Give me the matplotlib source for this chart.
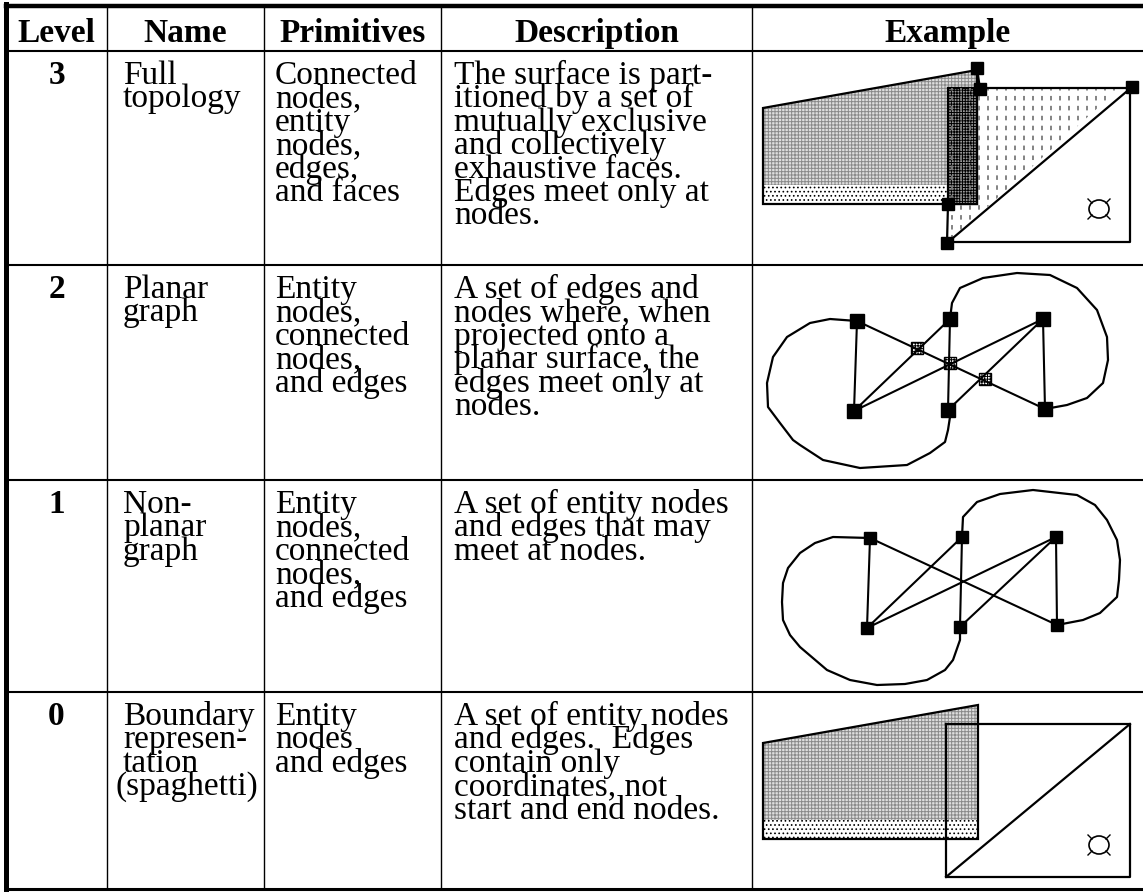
import numpy as np
import matplotlib
matplotlib.use('Agg')
import matplotlib.pyplot as plt
from matplotlib.patches import Polygon, Rectangle, Ellipse

plt.rcParams['font.family'] = ['Liberation Serif', 'DejaVu Serif']
plt.rcParams['hatch.linewidth'] = 0.7

# ---- table contents ----
headers = ['Level', 'Name', 'Primitives', 'Description', 'Example']
levels = ['3', '2', '1', '0']
names = [['Full', 'topology'],
         ['Planar', 'graph'],
         ['Non-', 'planar', 'graph'],
         ['Boundary', 'represen-', 'tation', '(spaghetti)']]
primitives = [['Connected', 'nodes,', 'entity', 'nodes,', 'edges,', 'and faces'],
              ['Entity', 'nodes,', 'connected', 'nodes,', 'and edges'],
              ['Entity', 'nodes,', 'connected', 'nodes,', 'and edges'],
              ['Entity', 'nodes', 'and edges']]
descriptions = [['The surface is part-', 'itioned by a set of', 'mutually exclusive',
                 'and collectively', 'exhaustive faces.', 'Edges meet only at', 'nodes.'],
                ['A set of edges and', 'nodes where, when', 'projected onto a',
                 'planar surface, the', 'edges meet only at', 'nodes.'],
                ['A set of entity nodes', 'and edges that may', 'meet at nodes.'],
                ['A set of entity nodes', 'and edges.  Edges', 'contain only',
                 'coordinates, not', 'start and end nodes.']]

# grid of the table (pixels)
col_x = [6, 107, 264, 441, 752, 1143]
row_y = [6, 51, 265, 480, 692, 889]

# ---- example drawings (pixel coords) ----
# level 3 : full topology
l3_face = [(763, 108), (977, 70), (977, 204), (763, 204)]
l3_band = [(763, 185), (977, 185), (977, 204), (763, 204)]
l3_strip = [(948, 88), (977, 88), (977, 204), (948, 204)]
l3_dash = [(948, 88), (1120, 88), (947, 243), (948, 204)]
l3_rect = [(977, 88), (1130, 88), (1130, 242), (947, 242)]
l3_nodes = [(977, 68), (980, 89), (1132, 87), (948, 204), (947, 243)]
l3_mark = (1099, 209)

# level 2 : planar graph
l2_nodes = [(857, 321), (950, 319), (1043, 319), (854, 411), (948, 410), (1045, 409)]
l2_cross = [(917, 348), (950, 363), (985, 379)]
l2_edges = [(0, 3), (1, 4), (2, 5), (0, 5), (3, 1), (3, 2), (4, 2)]
l2_left = [(857, 321), (830, 319), (810, 323), (787, 337), (773, 357), (767, 383),
           (768, 407), (780, 423), (793, 440), (800, 445), (823, 460), (860, 468),
           (907, 465), (930, 453), (945, 442), (948, 430), (950, 417), (948, 410)]
l2_right = [(950, 319), (952, 303), (960, 288), (983, 278), (1017, 273), (1050, 275),
            (1077, 288), (1097, 310), (1107, 337), (1108, 360), (1103, 383),
            (1087, 398), (1067, 405), (1045, 409)]

# level 1 : non-planar graph
l1_nodes = [(870, 538), (962, 537), (1056, 537), (867, 628), (960, 627), (1057, 625)]
l1_edges = [(0, 3), (1, 4), (2, 5), (0, 5), (1, 3), (2, 3), (2, 4)]
l1_left = [(870, 538), (833, 537), (815, 543), (800, 553), (788, 568), (783, 583),
           (782, 602), (783, 620), (790, 635), (800, 647), (827, 670), (850, 680),
           (877, 685), (905, 684), (927, 680), (945, 670), (953, 660), (960, 640),
           (960, 627)]
l1_right = [(962, 537), (963, 517), (977, 502), (1000, 494), (1033, 490), (1077, 495),
            (1095, 505), (1107, 520), (1117, 540), (1120, 560), (1119, 580),
            (1117, 597), (1100, 613), (1083, 620), (1057, 625)]

# level 0 : spaghetti
l0_face = [(763, 743), (978, 705), (978, 839), (763, 839)]
l0_band = [(763, 820), (978, 820), (978, 839), (763, 839)]
l0_rect = [(946, 724), (1130, 724), (1130, 877), (946, 877)]
l0_mark = (1099, 845)

fig = plt.figure(figsize=(11.43, 8.92), dpi=100)
ax = fig.add_axes([0, 0, 1, 1])
ax.set_xlim(0, 1143)
ax.set_ylim(892, 0)
ax.axis('off')
renderer = fig.canvas.get_renderer()

# ---- table lines ----
for x in col_x[1:-1]:
    ax.plot([x, x], [row_y[0], row_y[-1]], color='black', lw=1.0)
for y in row_y[1:-1]:
    ax.plot([col_x[0], col_x[-1]], [y, y], color='black', lw=1.5)
ax.plot([col_x[0], col_x[-1]], [row_y[0], row_y[0]], color='black', lw=3.2)
ax.plot([col_x[0], col_x[-1]], [row_y[-1], row_y[-1]], color='black', lw=2.2)
ax.plot([col_x[0], col_x[0]], [row_y[0] - 2, row_y[-1] + 2], color='black', lw=3.6)

# ---- text ----
fs = 24
for i, h in enumerate(headers):
    ax.text((col_x[i] + col_x[i + 1]) / 2, 42, h, ha='center', va='baseline',
            fontsize=fs, fontweight='bold')


def cell_line(x, y, s, right):
    t = ax.text(x, y, s, va='baseline', fontsize=fs)
    w = t.get_window_extent(renderer).width
    if x + w > right:  # word too long: pull it left like the original
        t.set_x(right - w)


line_h = 23.4
for r in range(4):
    base = row_y[r + 1] + 33
    ax.text((col_x[0] + col_x[1]) / 2, base, levels[r], ha='center', va='baseline',
            fontsize=fs, fontweight='bold')
    for k, s in enumerate(names[r]):
        cell_line(col_x[1] + 16, base + k * line_h, s, col_x[2] - 6)
    for k, s in enumerate(primitives[r]):
        cell_line(col_x[2] + 11, base + k * line_h, s, col_x[3] - 6)
    for k, s in enumerate(descriptions[r]):
        cell_line(col_x[3] + 13, base + k * line_h, s, col_x[4] - 6)


def face(pts, band):
    ax.add_patch(Polygon(pts, closed=True, facecolor='#dedede', edgecolor='#8a8a8a',
                         lw=0, hatch='+++++'))
    ax.add_patch(Polygon(band, closed=True, facecolor='white', edgecolor='black',
                         lw=0, hatch='....'))
    ax.add_patch(Polygon(pts, closed=True, fill=False, edgecolor='black', lw=1.6))


def mark(c):
    ax.add_patch(Ellipse(c, 20, 18, fill=False, edgecolor='black', lw=1.2))
    for dx, dy in [(-1, -1), (1, -1), (-1, 1), (1, 1)]:
        ax.plot([c[0] + dx * 7, c[0] + dx * 11], [c[1] + dy * 6, c[1] + dy * 10],
                color='black', lw=1.0)


def poly(pts, lw=1.6):
    xs, ys = zip(*pts)
    ax.plot(xs, ys, color='black', lw=lw, solid_joinstyle='round')


# level 3
dash = Polygon(l3_dash, closed=True, facecolor='white', edgecolor='none')
ax.add_patch(dash)
for x in np.arange(952, 1125, 9):
    ln, = ax.plot([x, x], [86, 245], color='#7a7a7a', lw=1.3, linestyle=(0, (2.5, 3)))
    ln.set_clip_path(dash)
face(l3_face, l3_band)
ax.add_patch(Polygon(l3_strip, closed=True, facecolor='#9a9a9a', edgecolor='black',
                     lw=0, hatch='++++++'))
ax.add_patch(Polygon(l3_strip, closed=True, fill=False, edgecolor='black', lw=1.6))
poly(l3_rect)
poly([l3_nodes[3], l3_nodes[4], l3_nodes[2]])
poly([l3_nodes[0], l3_nodes[1]])
xs, ys = zip(*l3_nodes)
ax.plot(xs, ys, 's', color='black', ms=8.5, lw=0)
mark(l3_mark)

# level 2
for a, b in l2_edges:
    poly([l2_nodes[a], l2_nodes[b]], lw=1.5)
poly(l2_left)
poly(l2_right)
xs, ys = zip(*l2_nodes)
ax.plot(xs, ys, 's', color='black', ms=9.5, lw=0)
for cx, cy in l2_cross:
    ax.add_patch(Rectangle((cx - 6, cy - 6), 12, 12, facecolor='white',
                           edgecolor='black', lw=1.0, hatch='++++++'))

# level 1
for a, b in l1_edges:
    poly([l1_nodes[a], l1_nodes[b]], lw=1.5)
poly(l1_left)
poly(l1_right)
xs, ys = zip(*l1_nodes)
ax.plot(xs, ys, 's', color='black', ms=9.0, lw=0)

# level 0
face(l0_face, l0_band)
poly(l0_rect + [l0_rect[0]])
poly([l0_rect[3], l0_rect[1]])
mark(l0_mark)

fig.savefig('out.png', dpi=100)
